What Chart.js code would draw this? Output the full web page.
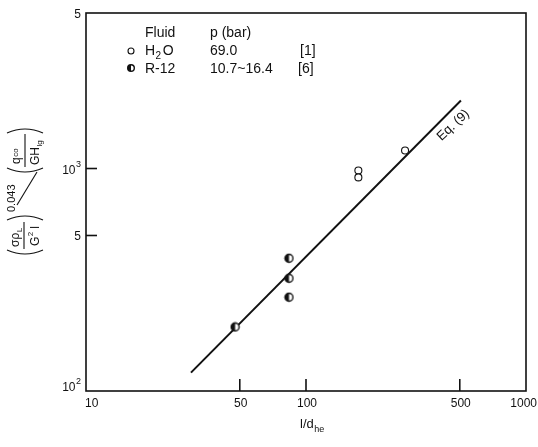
<!DOCTYPE html>
<html>
<head>
<meta charset="utf-8">
<script src="https://cdn.jsdelivr.net/npm/chart.js@4/dist/chart.umd.min.js"></script>
<style>
  body { margin: 0; background: #fff; }
  #wrap { width: 538px; height: 447px; }
</style>
</head>
<body>
<div id="wrap"><canvas id="chf"></canvas></div>
<script>
// measured points: l/d_he against the CHF group
const h2oX = [173, 173, 282];
const h2oY = [979, 912, 1204];
const r12X = [47.6, 83.7, 83.7, 83.7];
const r12Y = [194, 395, 321, 264];
// Eq. (9), end points of the correlation line
const eqX = [30, 506];
const eqY = [121, 2020];

const xTicks = [10, 50, 100, 500, 1000];
const xTickLabels = ['10', '50', '100', '500', '1000'];
const yTicks = [100, 500, 1000, 5000];
const yTickLabels = [['10', '2'], ['5', ''], ['10', '3'], ['5', '']];
const innerXTicks = [50, 100, 500];
const innerYTicks = [500, 1000];

const FONT = '"Liberation Sans", Arial, sans-serif';
const ink = '#111';

function pts(xs, ys) {
  return xs.map((x, i) => ({ x: x, y: ys[i] }));
}

// half-filled circle used for R-12
function halfDot(ctx, x, y, r) {
  ctx.save();
  ctx.beginPath(); ctx.arc(x, y, r, 0, Math.PI * 2);
  ctx.fillStyle = '#fff'; ctx.fill();
  ctx.beginPath(); ctx.arc(x, y, r, Math.PI / 2, Math.PI * 1.5); ctx.closePath();
  ctx.fillStyle = ink; ctx.fill();
  ctx.beginPath(); ctx.arc(x, y, r, 0, Math.PI * 2);
  ctx.lineWidth = 1.4; ctx.strokeStyle = ink; ctx.stroke();
  ctx.restore();
}
function openDot(ctx, x, y, r) {
  ctx.save();
  ctx.beginPath(); ctx.arc(x, y, r, 0, Math.PI * 2);
  ctx.fillStyle = '#fff'; ctx.fill();
  ctx.lineWidth = 1.1; ctx.strokeStyle = ink; ctx.stroke();
  ctx.restore();
}

const r12Img = document.createElement('canvas');
r12Img.width = 11; r12Img.height = 11;
halfDot(r12Img.getContext('2d'), 5.5, 5.5, 4);

function line(ctx, x1, y1, x2, y2) {
  ctx.beginPath(); ctx.moveTo(x1, y1); ctx.lineTo(x2, y2); ctx.stroke();
}
// text with a raised (dy<0) or lowered (dy>0) small suffix
function textWithIndex(ctx, x, y, main, idx, dy, size, smallSize) {
  ctx.font = size + 'px ' + FONT;
  ctx.fillText(main, x, y);
  const w = ctx.measureText(main).width;
  ctx.font = smallSize + 'px ' + FONT;
  ctx.fillText(idx, x + w + 0.5, y + dy);
  return x + w + 0.5 + ctx.measureText(idx).width;
}

const framePlugin = {
  id: 'frame',
  afterDraw(chart) {
    const { ctx, chartArea: a, scales: { x, y } } = chart;
    ctx.save();
    ctx.strokeStyle = ink; ctx.fillStyle = ink;
    ctx.lineWidth = 1.6;
    ctx.strokeRect(a.left, a.top, a.right - a.left, a.bottom - a.top);

    // short inward ticks
    innerXTicks.forEach(v => {
      const px = x.getPixelForValue(v);
      line(ctx, px, a.bottom, px, a.bottom - 12);
    });
    innerYTicks.forEach(v => {
      const py = y.getPixelForValue(v);
      line(ctx, a.left, py, a.left + 11, py);
    });

    // x tick labels
    ctx.font = '12px ' + FONT;
    ctx.textBaseline = 'alphabetic';
    xTicks.forEach((v, i) => {
      const px = x.getPixelForValue(v);
      if (i === 0) { ctx.textAlign = 'left'; ctx.fillText(xTickLabels[i], px - 1, a.bottom + 16); }
      else if (i === xTicks.length - 1) { ctx.textAlign = 'right'; ctx.fillText(xTickLabels[i], chart.width - 1, a.bottom + 16); }
      else { ctx.textAlign = 'center'; ctx.fillText(xTickLabels[i], px + 1, a.bottom + 16); }
    });

    // y tick labels, powers of ten with superscripts
    ctx.textAlign = 'left';
    yTicks.forEach((v, i) => {
      let py = y.getPixelForValue(v);
      if (i === 0) py -= 5;
      const [main, sup] = yTickLabels[i];
      ctx.font = '9px ' + FONT;
      const sw = sup ? ctx.measureText(sup).width : 0;
      ctx.font = '12px ' + FONT;
      const mw = ctx.measureText(main).width;
      const right = a.left - 5;
      ctx.fillText(main, right - sw - mw - (sup ? 0.5 : 0), py + 5);
      if (sup) {
        ctx.font = '9px ' + FONT;
        ctx.fillText(sup, right - sw, py - 2);
      }
    });

    // x axis title
    textWithIndex(ctx, 300, a.bottom + 37, 'l/d', 'he', 4, 13, 9);

    // y axis title, rotated
    ctx.save();
    ctx.translate(24, 255);
    ctx.rotate(-Math.PI / 2);
    ctx.lineWidth = 1.1;
    // first bracket (σρL / G²l)
    ctx.beginPath(); ctx.moveTo(5, -17); ctx.quadraticCurveTo(-3, 1, 5, 19); ctx.stroke();
    textWithIndex(ctx, 8, -5, 'σρ', 'L', 3, 12, 8);
    line(ctx, 6, 0, 33, 0);
    let gx = textWithIndex(ctx, 9, 15, 'G', '2', -6, 12, 8);
    ctx.font = '12px ' + FONT;
    ctx.fillText('l', gx + 3, 15);
    ctx.beginPath(); ctx.moveTo(35, -17); ctx.quadraticCurveTo(43, 1, 35, 19); ctx.stroke();
    ctx.font = '11px ' + FONT;
    ctx.fillText('0.043', 43, -9);
    ctx.restore();
    // the division slash
    ctx.lineWidth = 1.1;
    line(ctx, 17, 205, 37, 172);
    ctx.save();
    ctx.translate(24, 255);
    ctx.rotate(-Math.PI / 2);
    ctx.lineWidth = 1.1;
    // second bracket (qco / GHlg)
    ctx.beginPath(); ctx.moveTo(87, -17); ctx.quadraticCurveTo(79, 1, 87, 19); ctx.stroke();
    textWithIndex(ctx, 91, -4, 'q', 'co', -2, 12, 8);
    line(ctx, 88, 1, 121, 1);
    textWithIndex(ctx, 90, 15, 'GH', 'lg', 3, 12, 8);
    ctx.beginPath(); ctx.moveTo(122, -17); ctx.quadraticCurveTo(130, 1, 122, 19); ctx.stroke();
    ctx.restore();

    // correlation label along the line
    ctx.save();
    ctx.translate(453, 125);
    ctx.rotate(-43 * Math.PI / 180);
    ctx.font = '13px ' + FONT;
    ctx.textAlign = 'center';
    ctx.fillText('Eq. (9)', 0, 4);
    ctx.restore();

    // legend table
    ctx.textAlign = 'left';
    ctx.font = '14px ' + FONT;
    ctx.fillText('Fluid', 145, 37);
    ctx.fillText('p (bar)', 210, 37);
    openDot(ctx, 131, 51, 3);
    const hx = textWithIndex(ctx, 145, 55, 'H', '2', 4, 14, 10);
    ctx.font = '14px ' + FONT;
    ctx.fillText('O', hx + 1.5, 55);
    ctx.fillText('69.0', 210, 55);
    ctx.fillText('[1]', 300, 55);
    halfDot(ctx, 131, 68, 3.3);
    ctx.fillText('R-12', 145, 73);
    ctx.fillText('10.7~16.4', 210, 73);
    ctx.fillText('[6]', 298, 73);
    ctx.restore();
  }
};

new Chart(document.getElementById('chf'), {
  type: 'scatter',
  data: {
    datasets: [
      {
        label: 'Eq. (9)',
        data: pts(eqX, eqY),
        showLine: true,
        borderColor: ink,
        borderWidth: 2,
        pointRadius: 0,
        order: 2
      },
      {
        label: 'H2O',
        data: pts(h2oX, h2oY),
        pointStyle: 'circle',
        pointRadius: 3.5,
        backgroundColor: '#fff',
        borderColor: ink,
        borderWidth: 1.1,
        order: 1
      },
      {
        label: 'R-12',
        data: pts(r12X, r12Y),
        pointStyle: r12Img,
        order: 1
      }
    ]
  },
  options: {
    responsive: true,
    maintainAspectRatio: false,
    animation: false,
    layout: { padding: { left: 86, right: 12, top: 13, bottom: 56 } },
    plugins: { legend: { display: false }, tooltip: { enabled: false } },
    scales: {
      x: { type: 'logarithmic', min: 10, max: 1000, display: false },
      y: { type: 'logarithmic', min: 100, max: 5000, display: false }
    }
  },
  plugins: [framePlugin]
});
</script>
</body>
</html>
